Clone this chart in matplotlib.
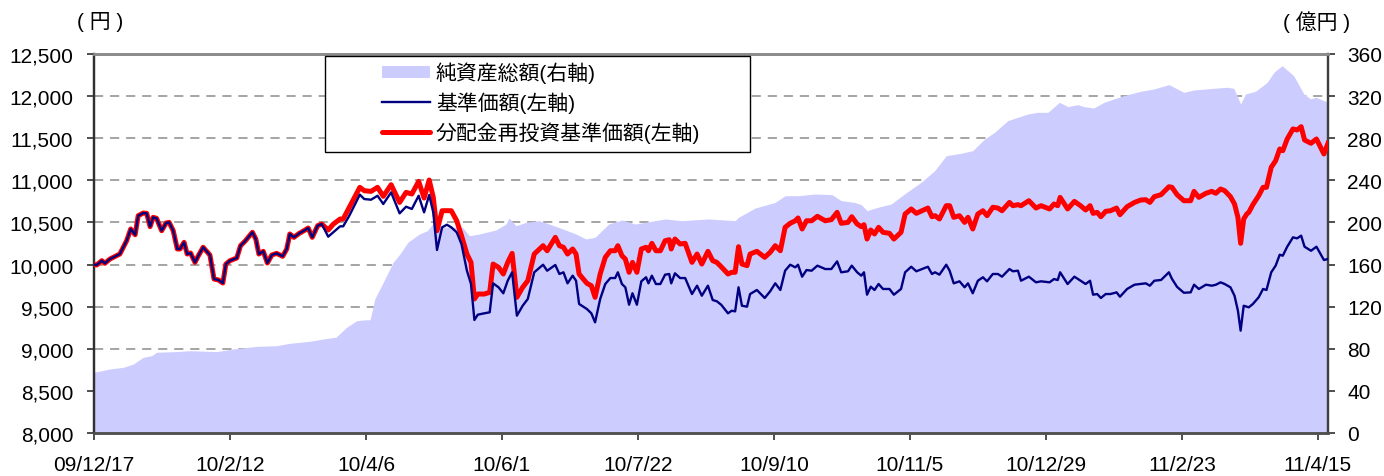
import matplotlib
matplotlib.use("Agg")
import matplotlib.pyplot as plt
from matplotlib.patches import Rectangle
from matplotlib.lines import Line2D
from matplotlib.ticker import FuncFormatter

plt.rcParams['font.family'] = ['Liberation Sans', 'Noto Sans CJK JP']

# x positions are business-day counts from 09/12/17
date_labels = ['09/12/17', '10/2/12', '10/4/6', '10/6/1', '10/7/22',
               '10/9/10', '10/11/5', '10/12/29', '11/2/23', '11/4/15']
label_pos = [0, 40, 80, 120, 160, 200, 240, 280, 320, 360]

# 基準価額 / 分配金再投資基準価額 (left axis, yen)
line_idx = [
    0, 0.8, 2.3, 3.2, 4.7, 7.6, 9.6, 10.8, 12.1, 13.0,
    14.5, 15.5, 16.5, 17.4, 18.4, 19.9, 21.2, 22.1, 23.3, 24.5,
    25.3, 26.5, 27.4, 28.4, 29.7, 30.7, 32.1, 34.1, 35.3, 36.6,
    37.9, 38.8, 40.0, 42.0, 43.1, 44.4, 46.6, 47.6, 48.5, 49.8,
    51.0, 52.3, 53.7, 55.5, 56.7, 57.6, 58.8, 60.4, 62.1, 63.0,
    64.2, 65.8, 67.0,
    68.9, 70.4, 72.4, 73.3, 75.1, 78.2, 79.5, 81.5, 83.4, 85.1,
    87.4, 89.9, 91.8, 93.5, 95.5, 97.1, 98.6, 99.8, 100.9, 102.4,
    103.8, 105.1, 106.7, 108.1, 109.7, 110.9, 111.9, 112.9, 114.8, 116.4,
    117.4, 119.0, 120.4, 121.7, 123.0, 124.4, 126.1, 127.6, 129.5, 132.1,
    133.3, 135.7, 136.9, 138.1, 139.3, 140.8, 141.8, 142.7, 145.0, 146.3,
    147.4, 148.9, 150.4, 151.9, 153.3, 154.1, 155.3, 156.3, 157.4, 158.4,
    159.7, 161.0, 162.4, 163.1, 164.1, 165.3, 166.6, 168.0, 169.2, 169.8,
    170.9, 172.4, 173.9, 175.9, 177.4, 178.8, 180.6, 182.0, 183.2, 184.5,
    186.5, 187.6, 188.6, 189.6, 190.6, 192.1, 193.0, 195.0, 197.3, 198.9,
    200.4, 201.9, 203.3, 204.8, 206.3, 207.1, 208.3, 209.6, 211.1, 212.8,
    215.1, 216.9, 218.6, 219.8, 221.8, 222.9, 224.5, 225.7, 226.5, 227.4,
    228.5, 229.6, 230.8, 232.1, 234.0, 235.3, 237.4, 238.6, 240.4, 241.9,
    245.3, 246.5, 247.4, 248.7, 250.7, 251.7, 252.9, 254.6, 256.1, 257.1,
    258.5, 260.0, 261.5, 262.7, 264.4, 265.9, 267.1, 269.3, 270.3, 271.8,
    272.7, 275.0, 277.1, 278.6, 281.1, 282.4, 283.5, 284.2, 286.4, 288.4,
    290.2, 291.7, 293.0, 293.9, 295.1, 296.2, 297.6, 299.0, 300.8, 301.8,
    303.9, 306.1, 307.9, 309.4, 310.6, 311.9, 313.9, 316.2, 317.1, 318.6,
    320.6, 322.6, 323.6, 325.0, 327.1, 328.8, 330.0, 331.4, 332.6, 334.3,
    335.5, 336.5, 337.3, 338.2, 339.1, 339.7, 340.9, 342.6, 343.9, 344.9,
    346.3, 347.6, 348.8, 349.7, 351.0, 352.7, 353.9, 355.1, 356.1, 358.0,
    359.6, 361.8, 363.0]

nav = [
    10000, 9995, 10046, 10015, 10066, 10125, 10283, 10422, 10354, 10580,
    10612, 10608, 10450, 10561, 10549, 10402, 10493, 10501, 10402, 10185,
    10185, 10264, 10125, 10137, 10026, 10105, 10205, 10113, 9828, 9817,
    9781, 10006, 10046, 10078, 10224, 10276, 10383, 10303, 10125, 10157,
    10018, 10113, 10133, 10098, 10185, 10363, 10323, 10371, 10410, 10434,
    10323, 10462, 10481,
    10331, 10383, 10454, 10454, 10580, 10830, 10778, 10770, 10817, 10719,
    10857, 10608, 10687, 10660, 10817, 10620, 10826, 10620, 10173, 10442,
    10473, 10442, 10383, 10244, 9927, 9769, 9342, 9405, 9421, 9433,
    9777, 9730, 9659, 9808, 9908, 9393, 9511, 9591, 9908, 9998,
    9927, 9995, 9888, 9908, 9777, 9868, 9808, 9532, 9472, 9421,
    9314, 9591, 9769, 9840, 9840, 9908, 9769, 9730, 9523, 9659,
    9523, 9801, 9849, 9777, 9868, 9769, 9769, 9880, 9888, 9777,
    9896, 9840, 9840, 9650, 9749, 9630, 9749, 9579, 9564, 9523,
    9421, 9452, 9444, 9730, 9511, 9500, 9650, 9698, 9603, 9682,
    9777, 9698, 9927, 9998, 9967, 9998, 9856, 9935, 9927, 9987,
    9947, 9947, 10038, 9908, 9920, 9987, 9908, 9868, 9908, 9642,
    9737, 9698, 9769, 9710, 9710, 9642, 9710, 9908, 9974, 9920,
    9974, 9888, 9908, 9880, 9998, 9927, 9777, 9801, 9730, 9777,
    9659, 9808, 9849, 9801, 9888, 9888, 9856, 9947, 9920, 9927,
    9808, 9856, 9789, 9801, 9789, 9828, 9816, 9908, 9769, 9856,
    9808, 9769, 9808, 9642, 9650, 9603, 9650, 9650, 9670, 9618,
    9710, 9761, 9770, 9777, 9749, 9808, 9817, 9908, 9830, 9735,
    9665, 9670, 9761, 9710, 9761, 9749, 9760, 9789, 9769, 9730,
    9630, 9452, 9215, 9511, 9500, 9492, 9532, 9611, 9710, 9698,
    9908, 9987, 10117, 10105, 10212, 10323, 10311, 10343, 10212, 10164,
    10212, 10054, 10066]

reinvested = [
    10000, 9995, 10046, 10015, 10066, 10125, 10283, 10422, 10354, 10580,
    10612, 10608, 10450, 10561, 10549, 10402, 10493, 10501, 10402, 10185,
    10185, 10264, 10125, 10137, 10026, 10105, 10205, 10113, 9828, 9817,
    9781, 10006, 10046, 10078, 10224, 10276, 10383, 10303, 10125, 10157,
    10018, 10113, 10133, 10098, 10185, 10363, 10323, 10371, 10410, 10434,
    10323, 10462, 10481,
    10410, 10480, 10541, 10541, 10680, 10917, 10877, 10869, 10917, 10810,
    10948, 10738, 10857, 10838, 10988, 10790, 11004, 10798, 10402, 10639,
    10640, 10639, 10520, 10343, 10125, 10026, 9591, 9650, 9650, 9670,
    10006, 9967, 9888, 10026, 10133, 9611, 9730, 9808, 10125, 10224,
    10164, 10323, 10224, 10205, 10125, 10185, 10125, 9888, 9777, 9749,
    9611, 9888, 10086, 10164, 10164, 10224, 10105, 10066, 9908, 10026,
    9908, 10185, 10205, 10164, 10252, 10164, 10164, 10283, 10295, 10185,
    10303, 10244, 10252, 10026, 10125, 10006, 10157, 10046, 10026, 9974,
    9888, 9908, 9908, 10212, 10006, 9987, 10125, 10157, 10086, 10145,
    10224, 10164, 10442, 10490, 10520, 10553, 10422, 10520, 10520, 10573,
    10520, 10533, 10620, 10490, 10501, 10568, 10481, 10450, 10473, 10303,
    10410, 10363, 10442, 10383, 10371, 10303, 10383, 10600, 10660, 10608,
    10671, 10568, 10580, 10541, 10699, 10699, 10561, 10580, 10501, 10561,
    10422, 10600, 10639, 10580, 10680, 10671, 10639, 10738, 10699, 10711,
    10699, 10758, 10671, 10699, 10660, 10719, 10699, 10798, 10660, 10750,
    10699, 10648, 10699, 10608, 10620, 10568, 10632, 10639, 10671, 10592,
    10687, 10738, 10766, 10770, 10738, 10806, 10830, 10924, 10917, 10830,
    10758, 10758, 10869, 10798, 10846, 10869, 10846, 10897, 10877, 10806,
    10719, 10561, 10252, 10541, 10600, 10620, 10711, 10817, 10917, 10917,
    11155, 11233, 11372, 11352, 11491, 11610, 11598, 11637, 11479, 11440,
    11491, 11313, 11440]

# 純資産総額 (right axis, 億円)
asset_idx = [
    0, 4.7, 8.6, 11.6, 13.0, 14.5, 17.0, 18.4, 24.3, 28.2,
    36.1, 41.0, 47.9, 53.7, 57.6, 63.5, 67.4, 71.2, 74.3, 77.3,
    80.2, 81.2, 82.6, 85.1, 88.0, 90.0, 92.3, 95.7, 98.1, 99.6,
    103.5, 108.4, 110.4, 113.3, 118.2, 121.2, 122.1, 124.1, 127.1, 131.0,
    133.9, 137.9, 141.8, 144.7, 147.4, 151.4, 155.3, 159.2, 168.0, 172.9,
    180.8, 188.6, 189.6, 194.5, 200.4, 203.3, 207.3, 212.1, 217.1, 219.8,
    223.7, 225.7, 227.4, 230.6, 234.5, 238.4, 243.3, 247.3, 250.7, 255.1,
    258.5, 262.0, 264.9, 268.8, 271.8, 274.7, 277.6, 280.6, 284.0, 286.5,
    289.4, 291.2, 294.1, 297.1, 302.9, 307.9, 311.8, 316.2, 320.6, 323.5,
    329.4, 333.3, 335.3, 337.3, 338.7, 341.7, 345.1, 347.1, 349.5, 352.9,
    355.9, 357.9, 359.4, 363.0]

assets = [
    57.7, 60.8, 62.4, 65.5, 68.7, 71.9, 73.5, 76.7, 77.3, 78.2,
    77.3, 79.8, 82.3, 82.9, 85.2, 87.1, 89.3, 91.0, 100.4, 106.7,
    107.6, 107.5, 127.3, 143.2, 162.2, 170.0, 181.1, 189.0, 192.2, 198.5,
    195.4, 195.4, 187.4, 189.0, 192.8, 198.5, 204.2, 196.9, 200.1, 201.7,
    198.5, 193.8, 189.0, 184.3, 185.9, 198.5, 202.3, 198.5, 203.3, 201.7,
    203.3, 201.7, 204.9, 213.7, 219.1, 225.4, 225.4, 227.0, 226.4, 220.7,
    219.1, 216.9, 211.2, 214.4, 217.5, 227.0, 238.1, 249.2, 263.4, 265.7,
    268.2, 279.3, 285.6, 296.7, 299.9, 303.0, 304.6, 304.6, 314.1, 310.0,
    311.9, 310.0, 308.7, 314.1, 320.4, 324.6, 326.8, 330.9, 323.6, 325.8,
    327.4, 328.4, 327.4, 312.5, 322.0, 324.6, 333.1, 342.6, 348.9, 339.4,
    322.0, 317.3, 318.9, 314.1]

legend_labels = ['純資産総額(右軸)', '基準価額(左軸)', '分配金再投資基準価額(左軸)']

W, H = 1384, 477
fig = plt.figure(figsize=(W / 100, H / 100), dpi=100)
ax = fig.add_axes([94 / W, 1 - 434 / H, 1234 / W, 379 / H])
ax2 = ax.twinx()

# area on the base axes (right scale), lines on the twin (left scale)
ax.fill_between(asset_idx, assets, 0, color='#ccccff', lw=0, zorder=2)
ax.set_ylim(0, 360)
ax.set_yticks(range(0, 361, 40))
ax.set_xlim(0, 363)
ax.grid(axis='y', color='#8c8c8c', lw=1.1, ls=(0, (6, 4.5)), zorder=0)
ax.set_axisbelow(True)
ax.yaxis.tick_right()
ax.tick_params(axis='y', labelsize=15, pad=9, length=5, width=1.3, color='#404040')
ax.set_xticks(label_pos)
ax.set_xticklabels(date_labels)
ax.tick_params(axis='x', labelsize=15, pad=11, length=5, width=1.3, color='#404040')

ax2.plot(line_idx, reinvested, color='#ff0000', lw=3.6, solid_joinstyle='round', zorder=3)
ax2.plot(line_idx, nav, color='#000080', lw=1.7, solid_joinstyle='round', zorder=4)
ax2.set_ylim(8000, 12500)
ax2.set_yticks(range(8000, 12501, 500))
ax2.yaxis.set_major_formatter(FuncFormatter(lambda v, p: f'{v:,.0f}'))
ax2.yaxis.tick_left()
ax2.tick_params(axis='y', labelsize=15, pad=10, length=5, width=1.3, color='#404040')
ax2.set_xlim(0, 363)

for a in (ax, ax2):
    a.spines['left'].set_color('#303030')
    a.spines['left'].set_linewidth(1.6)
    a.spines['right'].set_color('#404040')
    a.spines['right'].set_linewidth(1.6)
    a.spines['bottom'].set_color('#505050')
    a.spines['bottom'].set_linewidth(1.8)
    a.spines['top'].set_color('#8c8c8c')
    a.spines['top'].set_linewidth(2)

# legend box drawn by hand so it keeps the wide side margins
tr = ax2.transAxes
ax2.add_artist(Rectangle((0.1872, 0.7414), 0.3444, 0.2533, transform=tr,
                         fc='white', ec='black', lw=1, zorder=10))
rows_y = [0.9525, 0.8734, 0.7942]
hx0, hx1, tx = 0.2334, 0.2723, 0.2771
ax2.add_artist(Rectangle((hx0, rows_y[0] - 0.016), hx1 - hx0, 0.032, transform=tr,
                         fc='#ccccff', lw=0, zorder=11))
ax2.add_artist(Line2D([hx0, hx1], [rows_y[1]] * 2, transform=tr, color='#000080',
                      lw=1.7, zorder=11))
ax2.add_artist(Line2D([hx0, hx1], [rows_y[2]] * 2, transform=tr, color='#ff0000',
                      lw=3.6, solid_capstyle='round', zorder=11))
for yy, lab in zip(rows_y, legend_labels):
    ax2.text(tx, yy, lab, transform=tr, va='center', ha='left', fontsize=15, zorder=12)

fig.text(100 / W, 1 - 22 / H, '( 円 )', ha='center', va='center', fontsize=15)
fig.text(1317 / W, 1 - 22 / H, '( 億円 )', ha='center', va='center', fontsize=15)

fig.savefig('out.png', dpi=100)
